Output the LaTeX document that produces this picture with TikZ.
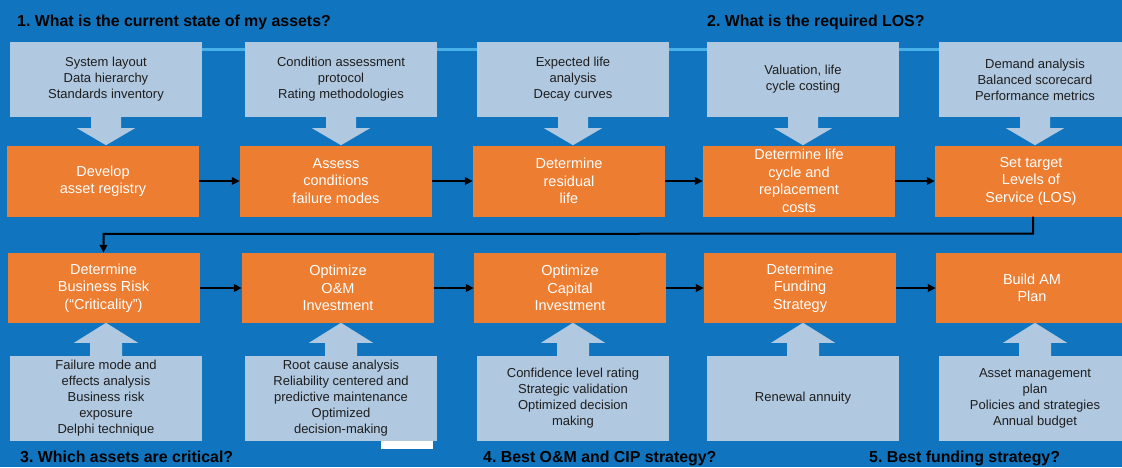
\documentclass[tikz,border=0pt]{standalone}
\usepackage{fontspec}
\setmainfont{Liberation Sans}
\frenchspacing
\usetikzlibrary{arrows.meta,calc}
\definecolor{bgblue}{RGB}{16,117,190}
\definecolor{lightbox}{RGB}{176,200,224}
\definecolor{orangebox}{RGB}{237,125,49}
\definecolor{thinline}{RGB}{72,178,232}
\definecolor{darktext}{RGB}{30,30,30}
\tikzset{
  infobox/.style={fill=lightbox, draw=none, inner sep=0pt, minimum width=192pt, align=center,
    text=darktext, font=\fontsize{13}{16}\selectfont},
  stepbox/.style={fill=orangebox, draw=none, inner sep=0pt, minimum width=192pt, align=center,
    text=white, font=\fontsize{14.5}{17.5}\selectfont},
  title/.style={anchor=base west, inner sep=0pt, text=black, font=\fontsize{15.9}{18}\bfseries\selectfont},
  flow/.style={draw=black, line width=2pt, -{Triangle[length=8pt,width=7.5pt]}},
  blockarrow/.style={fill=lightbox, draw=none}
}
\begin{document}
\begin{tikzpicture}[x=1pt,y=-1pt]
\useasboundingbox (0,0) rectangle (1122,467);
\clip (0,0) rectangle (1122,467);
\fill[bgblue] (0,0) rectangle (1122,467);

% thin line behind top boxes
\draw[thinline, line width=3pt] (106,49) -- (1035,49);

% top info boxes
\node[infobox, minimum height=75pt] (t1) at (106,79.5) {System layout\\Data hierarchy\\Standards inventory};
\node[infobox, minimum height=75pt] (t2) at (341,79.5) {Condition assessment\\protocol\\Rating methodologies};
\node[infobox, minimum height=75pt] (t3) at (573,79.5) {Expected life\\analysis\\Decay curves};
\node[infobox, minimum height=75pt] (t4) at (803,79.5) {Valuation, life\\cycle costing};
\node[infobox, minimum height=75pt] (t5) at (1035,79.5) {Demand analysis\\Balanced scorecard\\Performance metrics};

% row 1 orange boxes
\node[stepbox, minimum height=71pt] (o1) at (103,181) {Develop\\asset registry};
\node[stepbox, minimum height=71pt] (o2) at (336,181) {Assess\\conditions\\failure modes};
\node[stepbox, minimum height=71pt] (o3) at (569,181) {Determine\\residual\\life};
\node[stepbox, minimum height=71pt] (o4) at (799,181) {Determine life\\cycle and\\replacement\\costs};
\node[stepbox, minimum height=71pt] (o5) at (1031,181) {Set target\\Levels of\\Service (LOS)};

% row 2 orange boxes
\node[stepbox, minimum height=70pt] (r1) at (103.5,288) {Determine\\Business Risk\\(“Criticality”)};
\node[stepbox, minimum height=70pt] (r2) at (338,288) {Optimize\\O\&M\\Investment};
\node[stepbox, minimum height=70pt] (r3) at (570,288) {Optimize\\Capital\\Investment};
\node[stepbox, minimum height=70pt] (r4) at (800,288) {Determine\\Funding\\Strategy};
\node[stepbox, minimum height=70pt] (r5) at (1032,288) {Build AM\\Plan};

% bottom info boxes
\node[infobox, minimum height=85pt] (b1) at (106,398.5) {Failure mode and\\effects analysis\\Business risk\\exposure\\Delphi technique};
\node[infobox, minimum height=85pt] (b2) at (341,398.5) {Root cause analysis\\Reliability centered and\\predictive maintenance\\Optimized\\decision-making};
\node[infobox, minimum height=85pt] (b3) at (573,398.5) {Confidence level rating\\Strategic validation\\Optimized decision\\making};
\node[infobox, minimum height=85pt] (b4) at (803,398.5) {Renewal annuity};
\node[infobox, minimum height=85pt] (b5) at (1035,398.5) {Asset management\\plan\\Policies and strategies\\Annual budget};

% block arrows: top boxes down to row 1
\foreach \t in {t1,t2,t3,t4,t5}{
  \fill[blockarrow] ($(\t.south)+(-15,-1)$) -- ++(0,12) -- ++(-14,0) -- ($(\t.south)+(0,28)$)
     -- ($(\t.south)+(29,11)$) -- ++(-14,0) -- ($(\t.south)+(15,-1)$) -- cycle;
}
% block arrows: bottom boxes up to row 2
\foreach \b in {b1,b2,b3,b4,b5}{
  \fill[blockarrow] ($(\b.north)+(-16,1)$) -- ++(0,-14) -- ++(-16,0) -- ($(\b.north)+(0,-33)$)
     -- ($(\b.north)+(32,-13)$) -- ++(-16,0) -- ($(\b.north)+(16,1)$) -- cycle;
}

% flow arrows
\draw[flow] (o1.east) -- (o2.west);
\draw[flow] (o2.east) -- (o3.west);
\draw[flow] (o3.east) -- (o4.west);
\draw[flow] (o4.east) -- (o5.west);
\coordinate (c1) at ($(o5.south)+(2,17)$);
\coordinate (c2) at ($(r1.north)+(0,-19)$);
\draw[flow] ($(o5.south)+(2,0)$) -- (c1) -- (c2) -- (r1.north);
\draw[flow] (r1.east) -- (r2.west);
\draw[flow] (r2.east) -- (r3.west);
\draw[flow] (r3.east) -- (r4.west);
\draw[flow] (r4.east) -- (r5.west);

% white patch
\fill[white] (381,441) rectangle (433,449);

% titles
\node[title] (h1) at (17,26) {1. What is the current state of my assets?};
\node[title] (h2) at (707,26) {2. What is the required LOS?};
\node[title] (h3) at (20,462) {3. Which assets are critical?};
\node[title] (h4) at (483,462) {4. Best O\&M and CIP strategy?};
\node[title] (h5) at (869,462) {5. Best funding strategy?};
\end{tikzpicture}
\end{document}
